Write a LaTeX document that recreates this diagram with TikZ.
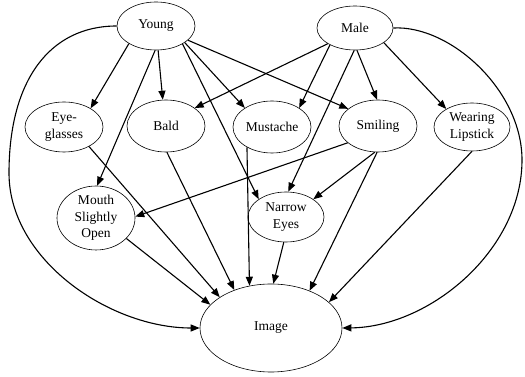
\documentclass[tikz,border=0pt]{standalone}
\usepackage{fontspec}
\setmainfont{Liberation Serif}
\usetikzlibrary{shapes.geometric,arrows.meta}
\begin{document}
\begin{tikzpicture}[x=1pt,y=1pt,
  var/.style={ellipse,draw,line width=0.6pt,inner sep=0pt,align=center,
    font=\fontsize{13.5}{16.5}\selectfont},
  edge/.style={line width=1.1pt,-{Triangle[length=9pt,width=7pt]}}]
\useasboundingbox (0,0) rectangle (525,377);
\node[var,minimum width=78,minimum height=48] (young) at (156,351) {Young};
\node[var,minimum width=76,minimum height=44] (male) at (355,349) {Male};
\node[var,minimum width=78,minimum height=50] (eye) at (64,250) {Eye-\\glasses};
\node[var,minimum width=78,minimum height=52] (bald) at (166,251) {Bald};
\node[var,minimum width=78,minimum height=52] (must) at (272,250) {Mustache};
\node[var,minimum width=78,minimum height=52] (smil) at (378,251) {Smiling};
\node[var,minimum width=76,minimum height=48] (lip) at (472,250) {Wearing\\Lipstick};
\node[var,minimum width=78,minimum height=52] (mouth) at (96,159) {Mouth\\Slightly\\Open};
\node[var,minimum width=76,minimum height=50] (narrow) at (286,160) {Narrow\\Eyes};
\node[var,minimum width=142,minimum height=88] (img) at (271,49) {Image};
\coordinate (yl) at (9,204);
\coordinate (mr) at (522,217);
% from Young
\draw[edge] (young.213) -- (eye.35);
\draw[edge] (young.268) -- (mouth.88);
\draw[edge] (young.275) -- (bald.97);
\draw[edge] (young.330) -- (must.145);
\draw[edge] (young.326) -- (narrow.147);
\draw[edge] (young.336) -- (smil.150);
% from Male
\draw[edge] (male.210) -- (bald.32);
\draw[edge] (male.214) -- (must.35);
\draw[edge] (male.268) -- (narrow.85);
\draw[edge] (male.275) -- (smil.92);
\draw[edge] (male.333) -- (lip.145);
% from Smiling
\draw[edge] (smil.209) -- (mouth.2);
\draw[edge] (smil.263) -- (narrow.33);
\draw[edge] (smil.268) -- (img.44);
% into Image
\draw[edge] (eye.322) -- (img.149);
\draw[edge] (bald.272) -- (img.134);
\draw[edge] (must.219) -- (img.117);
\draw[edge] (mouth.326) -- (img.159);
\draw[edge] (narrow.265) -- (img.87);
\draw[edge] (lip.270) -- (img.24);
\draw[edge] (young.west) .. controls (50,351) and (9,297) .. (yl)
  .. controls (9,117) and (110,49) .. (img.west);
\draw[edge] (male.east) .. controls (450,352) and (522,287) .. (mr)
  .. controls (522,127) and (430,50) .. (img.east);
\end{tikzpicture}
\end{document}
